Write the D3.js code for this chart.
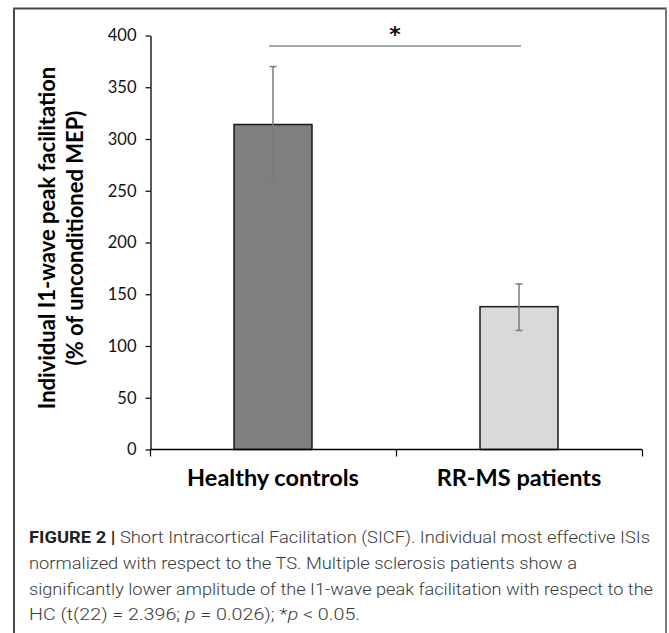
<!DOCTYPE html>
<html>
<head>
<meta charset="utf-8">
<script src="https://cdn.jsdelivr.net/npm/d3@7"></script>
<style>
  html, body { margin: 0; padding: 0; background: #fff; }
  svg { display: block; }
</style>
</head>
<body>
<svg id="chart" width="669" height="633"></svg>
<script>
// ---- data ----
const categories = ["Healthy controls", "RR-MS patients"];
const means = [314, 138];
const errHigh = [370, 160];
const errLow = [258, 115];
const yTicks = [0, 50, 100, 150, 200, 250, 300, 350, 400];
const yTitleLines = ["Individual I1-wave peak facilitation", "(% of unconditioned MEP)"];
const sigLabel = "*";
const captionLines = [
  [{t: "FIGURE 2 | ", b: true}, {t: "Short Intracortical Facilitation (SICF). Individual most effective ISIs"}],
  [{t: "normalized with respect to the TS. Multiple sclerosis patients show a"}],
  [{t: "significantly lower amplitude of the I1-wave peak facilitation with respect to the"}],
  [{t: "HC (t(22) = 2.396; "}, {t: "p", i: true}, {t: " = 0.026); *"}, {t: "p", i: true}, {t: " < 0.05."}]
];

// ---- drawing ----
const svg = d3.select("#chart");

// frame
svg.append("line").attr("x1", 13).attr("x2", 667).attr("y1", 8.5).attr("y2", 8.5)
  .attr("stroke", "#4a4a4a").attr("stroke-width", 2);
svg.append("line").attr("x1", 14).attr("x2", 14).attr("y1", 8).attr("y2", 633)
  .attr("stroke", "#4a4a4a").attr("stroke-width", 2);
svg.append("line").attr("x1", 666).attr("x2", 666).attr("y1", 8).attr("y2", 633)
  .attr("stroke", "#7a7a7a").attr("stroke-width", 2);

const y = d3.scaleLinear().domain([0, 400]).range([449.5, 35.5]);
const x = d3.scaleBand().domain(categories).range([150, 642])
  .paddingInner(0.683).paddingOuter(0.3415);

const fills = ["#7f7f7f", "#d9d9d9"];

// bars
svg.append("g").selectAll("rect").data(categories).join("rect")
  .attr("x", d => x(d))
  .attr("y", (d, i) => y(means[i]))
  .attr("width", x.bandwidth())
  .attr("height", (d, i) => y(0) - y(means[i]))
  .attr("fill", (d, i) => fills[i])
  .attr("stroke", "#1a1a1a").attr("stroke-width", 1.5);

// error bars
const eg = svg.append("g").attr("stroke", "#7a7a7a").attr("stroke-width", 1.5);
categories.forEach((c, i) => {
  const cx = x(c) + x.bandwidth() / 2;
  eg.append("line").attr("x1", cx).attr("x2", cx).attr("y1", y(errHigh[i])).attr("y2", y(errLow[i]));
  eg.append("line").attr("x1", cx - 3.5).attr("x2", cx + 3.5).attr("y1", y(errHigh[i])).attr("y2", y(errHigh[i]));
  eg.append("line").attr("x1", cx - 3.5).attr("x2", cx + 3.5).attr("y1", y(errLow[i])).attr("y2", y(errLow[i]));
});

// y axis
const yAxis = svg.append("g").attr("transform", "translate(150.5,0)")
  .call(d3.axisLeft(y).tickValues(yTicks).tickSize(5).tickSizeOuter(0).tickPadding(9));
yAxis.select(".domain").attr("stroke", "#000").attr("stroke-width", 1.3);
yAxis.selectAll(".tick line").attr("stroke", "#000").attr("stroke-width", 1.2);
yAxis.selectAll(".tick text").attr("font-family", "Lato, 'Open Sans', sans-serif")
  .attr("font-size", 16.5).attr("fill", "#111");

// x axis (line + tick marks at band boundaries)
const xr = x.range();
svg.append("line").attr("x1", xr[0]).attr("x2", xr[1]).attr("y1", y(0)).attr("y2", y(0))
  .attr("stroke", "#000").attr("stroke-width", 1.3);
const boundaries = [xr[0], xr[0] + x.step(), xr[1]];
svg.append("g").selectAll("line").data(boundaries).join("line")
  .attr("x1", d => d + 0.5).attr("x2", d => d + 0.5)
  .attr("y1", y(0)).attr("y2", y(0) + 7)
  .attr("stroke", "#000").attr("stroke-width", 1.2);

// category labels
svg.append("g").selectAll("text").data(categories).join("text")
  .attr("x", d => x(d) + x.bandwidth() / 2)
  .attr("y", 486)
  .attr("text-anchor", "middle")
  .attr("font-family", "Lato, 'Open Sans', sans-serif")
  .attr("font-weight", "bold")
  .attr("font-size", 23.5)
  .attr("fill", "#000")
  .text(d => d);

// y title
const yt = svg.append("g");
yTitleLines.forEach((t, i) => {
  yt.append("text")
    .attr("transform", `translate(${55 + i * 28},238) rotate(-90)`)
    .attr("text-anchor", "middle")
    .attr("font-family", "Lato, 'Open Sans', sans-serif")
    .attr("font-weight", "bold")
    .attr("font-size", 22)
    .attr("fill", "#000")
    .text(t);
});

// significance bracket
const sx1 = x(categories[0]) + x.bandwidth() / 2 - 4;
const sx2 = x(categories[1]) + x.bandwidth() / 2 + 2;
svg.append("line").attr("x1", sx1).attr("x2", sx2).attr("y1", 46).attr("y2", 46)
  .attr("stroke", "#555").attr("stroke-width", 1.2);
svg.append("text").attr("x", (sx1 + sx2) / 2).attr("y", 42)
  .attr("text-anchor", "middle")
  .attr("font-family", "'DejaVu Sans', sans-serif")
  .attr("font-weight", "bold")
  .attr("font-size", 22)
  .attr("fill", "#111")
  .text(sigLabel);

// caption
const capWidths = [621, 548, 624, 331];
const capY = [543, 569, 595, 620];
captionLines.forEach((parts, li) => {
  const t = svg.append("text")
    .attr("x", 29).attr("y", capY[li])
    .attr("font-family", "Roboto, 'Liberation Sans', sans-serif")
    .attr("font-size", 17)
    .attr("font-weight", 300)
    .attr("fill", "#3a3a3a")
    .attr("textLength", capWidths[li])
    .attr("lengthAdjust", "spacingAndGlyphs");
  parts.forEach(p => {
    const ts = t.append("tspan").text(p.t);
    if (p.b) ts.attr("font-weight", "bold").attr("fill", "#222");
    if (p.i) ts.attr("font-style", "italic");
  });
});
</script>
</body>
</html>
